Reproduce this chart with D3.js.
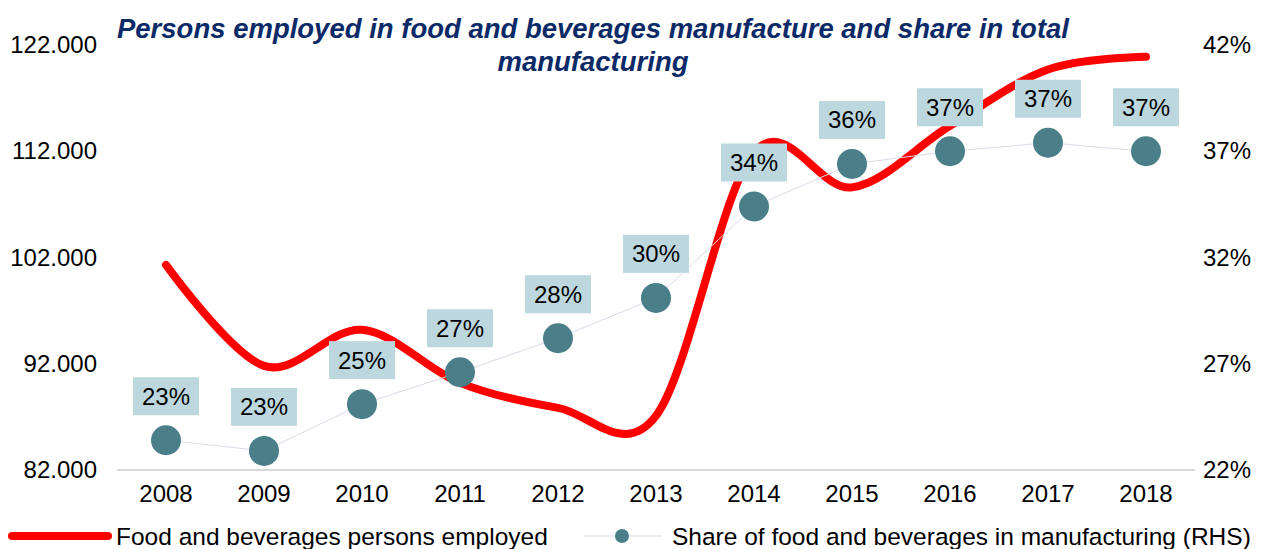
<!DOCTYPE html>
<html lang="en">
<head>
<meta charset="UTF-8">
<title>Persons employed in food and beverages manufacture</title>
<script src="https://d3js.org/d3.v7.min.js"></script>
<style>
  body { margin: 0; background: #fff; }
  svg { display: block; font-family: Arial, "Liberation Sans", sans-serif; }
</style>
</head>
<body>
<div id="chart"></div>
<script>
// data
const years = ["2008","2009","2010","2011","2012","2013","2014","2015","2016","2017","2018"];
const employed = [101300, 91800, 95200, 90200, 87850, 87100, 111900, 108600, 114400, 119700, 120900];
const share = [23.4, 22.9, 25.1, 26.6, 28.2, 30.1, 34.4, 36.4, 37.0, 37.4, 37.0];
const leftTicks = [82000, 92000, 102000, 112000, 122000];
const rightTicks = [22, 27, 32, 37, 42];
const titleLines = ["Persons employed in food and beverages manufacture and share in total", "manufacturing"];
const legendLabels = ["Food and beverages persons employed", "Share of food and beverages in manufacturing (RHS)"];

const width = 1275, height = 549;
const svg = d3.select("#chart").append("svg")
    .attr("width", width).attr("height", height);

const x = d3.scaleBand().domain(years).range([117, 1195]);
const yL = d3.scaleLinear().domain([82000, 122000]).range([470, 45]);
const yR = d3.scaleLinear().domain([22, 42]).range([470, 45]);
const cx = d => x(d) + x.bandwidth() / 2;

const fmtLeft = v => d3.format(".3f")(v / 1000);

// title
svg.append("g").selectAll("text")
    .data(titleLines)
    .join("text")
    .attr("x", 593)
    .attr("y", (d, i) => 38 + i * 33)
    .attr("text-anchor", "middle")
    .attr("font-size", 27.5)
    .attr("font-weight", "bold")
    .attr("font-style", "italic")
    .attr("fill", "#0b2a67")
    .text(d => d);

// baseline
svg.append("line")
    .attr("x1", 117).attr("x2", 1195)
    .attr("y1", yL(82000)).attr("y2", yL(82000))
    .attr("stroke", "#d9d9d9").attr("stroke-width", 2);

// left axis
const left = svg.append("g")
    .attr("transform", "translate(97,0)")
    .call(d3.axisLeft(yL).tickValues(leftTicks).tickSize(0).tickPadding(0).tickFormat(fmtLeft));
left.select(".domain").remove();
left.selectAll("text").attr("font-size", 24).attr("fill", "#000").attr("font-family", null);

// right axis
const right = svg.append("g")
    .attr("transform", "translate(1203,0)")
    .call(d3.axisRight(yR).tickValues(rightTicks).tickSize(0).tickPadding(0).tickFormat(d => d + "%"));
right.select(".domain").remove();
right.selectAll("text").attr("font-size", 24).attr("fill", "#000").attr("font-family", null);

// bottom axis
const bottom = svg.append("g")
    .attr("transform", "translate(0,478)")
    .call(d3.axisBottom(x).tickSize(0).tickPadding(0));
bottom.select(".domain").remove();
bottom.selectAll("text").attr("font-size", 24).attr("fill", "#000").attr("font-family", null).attr("dy", "1em");

// red smoothed line
const redLine = d3.line()
    .x((d, i) => cx(years[i]))
    .y(d => yL(d))
    .curve(d3.curveCardinal.tension(0));
svg.append("path")
    .datum(employed)
    .attr("d", redLine)
    .attr("fill", "none")
    .attr("stroke", "#ff0000")
    .attr("stroke-width", 8)
    .attr("stroke-linecap", "round");

// share line + dots
const shareLine = d3.line()
    .x((d, i) => cx(years[i]))
    .y(d => yR(d));
svg.append("path")
    .datum(share)
    .attr("d", shareLine)
    .attr("fill", "none")
    .attr("stroke", "#d9dbe6")
    .attr("stroke-width", 1);

svg.append("g").selectAll("circle")
    .data(share)
    .join("circle")
    .attr("cx", (d, i) => cx(years[i]))
    .attr("cy", d => yR(d))
    .attr("r", 15)
    .attr("fill", "#4a7f89");

// data labels
const lab = svg.append("g").selectAll("g")
    .data(share)
    .join("g")
    .attr("transform", (d, i) => `translate(${cx(years[i])},${yR(d) - 44})`);
lab.append("rect")
    .attr("x", -33).attr("y", -19)
    .attr("width", 66).attr("height", 38)
    .attr("fill", "#bcd8de");
lab.append("text")
    .attr("text-anchor", "middle")
    .attr("dy", "0.35em")
    .attr("font-size", 24)
    .attr("fill", "#000")
    .text(d => Math.round(d) + "%");

// legend
const lg = svg.append("g");
lg.append("line")
    .attr("x1", 12).attr("x2", 108).attr("y1", 536).attr("y2", 536)
    .attr("stroke", "#ff0000").attr("stroke-width", 8).attr("stroke-linecap", "round");
lg.append("text")
    .attr("x", 116).attr("y", 545)
    .attr("font-size", 24.5).attr("fill", "#000")
    .text(legendLabels[0]);
lg.append("line")
    .attr("x1", 583).attr("x2", 662).attr("y1", 536).attr("y2", 536)
    .attr("stroke", "#d9dbe6").attr("stroke-width", 1);
lg.append("circle")
    .attr("cx", 622).attr("cy", 536).attr("r", 7)
    .attr("fill", "#4a7f89");
lg.append("text")
    .attr("x", 672).attr("y", 545)
    .attr("font-size", 24.5).attr("fill", "#000")
    .text(legendLabels[1]);
</script>
</body>
</html>
